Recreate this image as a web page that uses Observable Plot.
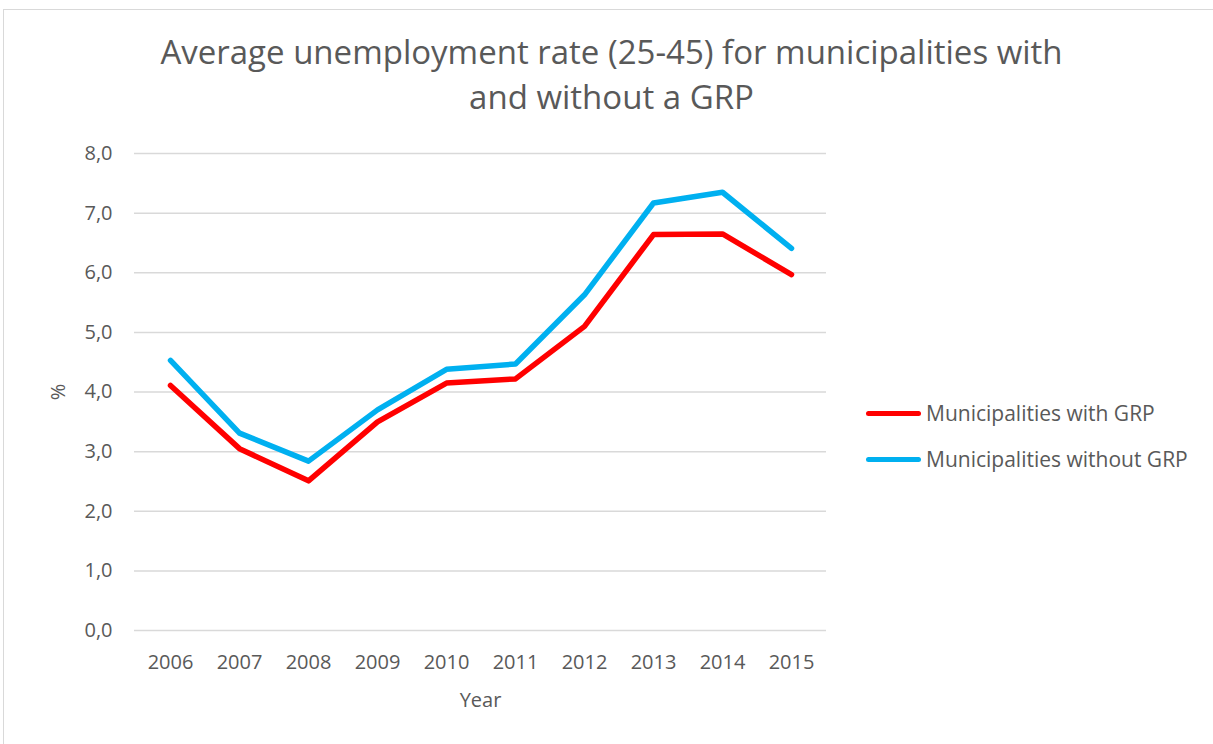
<!DOCTYPE html>
<html>
<head>
<meta charset="utf-8">
<script src="https://cdn.jsdelivr.net/npm/d3@7"></script>
<script src="https://cdn.jsdelivr.net/npm/@observablehq/plot@0.6"></script>
<style>
  html, body { margin: 0; padding: 0; background: #fff; }
  #wrap { position: relative; width: 1213px; height: 744px; overflow: hidden; font-family: "Open Sans", sans-serif; color: #595959; }
  #frame { position: absolute; left: 3px; top: 9px; width: 1230px; height: 760px; border: 1px solid #d9d9d9; box-sizing: border-box; }
  #title { position: absolute; left: 0; width: 1223px; top: 29px; text-align: center; font-size: 33px; line-height: 45px; color: #595959; }
  #chart { position: absolute; left: 0; top: 0; }
  #legend { position: absolute; left: 866px; top: 390px; font-size: 21px; color: #595959; }
  #ylab { position: absolute; left: 57px; top: 392px; font-size: 20px; transform: translate(-50%, -50%) rotate(-90deg); }
  .row { display: flex; align-items: center; height: 46px; }
  .sw { width: 55px; height: 5px; border-radius: 3px; margin-right: 5px; }
</style>
</head>
<body>
<div id="wrap">
  <div id="frame"></div>
  <div id="chart"></div>
  <div id="title">Average unemployment rate (25-45) for municipalities with<br>and without a GRP</div>
  <div id="ylab">%</div>
  <div id="legend"></div>
</div>
<script>
const years = ["2006","2007","2008","2009","2010","2011","2012","2013","2014","2015"];
const withGRP = [4.11, 3.05, 2.51, 3.50, 4.15, 4.22, 5.10, 6.64, 6.65, 5.97];
const withoutGRP = [4.53, 3.31, 2.84, 3.70, 4.38, 4.47, 5.63, 7.17, 7.35, 6.41];
const seriesNames = ["Municipalities with GRP", "Municipalities without GRP"];
const seriesColors = ["#ff0000", "#00b0f0"];
const yTicks = [0, 1, 2, 3, 4, 5, 6, 7, 8];

const data = [];
years.forEach((yr, i) => {
  data.push({year: yr, value: withGRP[i], series: seriesNames[0]});
  data.push({year: yr, value: withoutGRP[i], series: seriesNames[1]});
});

const fmt = v => v.toFixed(1).replace(".", ",");

const plot = Plot.plot({
  width: 1213,
  height: 744,
  marginLeft: 134,
  marginRight: 387,
  marginTop: 153,
  marginBottom: 114,
  style: { fontFamily: "Open Sans, sans-serif", fontSize: "20px", color: "#595959", background: "transparent" },
  x: { type: "point", domain: years, padding: 0.5, label: null },
  y: { domain: [0, 8], label: null },
  color: { domain: seriesNames, range: seriesColors },
  marks: [
    Plot.gridY(yTicks, { stroke: "#d9d9d9", strokeOpacity: 1, strokeWidth: 1.5 }),
    Plot.axisY(yTicks, { tickSize: 0, tickPadding: 22, tickFormat: fmt, fill: "#595959", fontSize: 20, label: null }),
    Plot.axisX(years, { tickSize: 0, tickPadding: 24, fill: "#595959", fontSize: 20, label: null }),
    Plot.text(["Year"], { frameAnchor: "bottom", dy: 76, fill: "#595959", fontSize: 20 }),
    Plot.line(data, { x: "year", y: "value", z: "series", stroke: "series", strokeWidth: 5.5, strokeLinecap: "round", strokeLinejoin: "round" })
  ]
});
document.getElementById("chart").appendChild(plot);

const legend = document.getElementById("legend");
seriesNames.forEach((n, i) => {
  const row = document.createElement("div");
  row.className = "row";
  row.innerHTML = `<div class="sw" style="background:${seriesColors[i]}"></div><span>${n}</span>`;
  legend.appendChild(row);
});
</script>
</body>
</html>
